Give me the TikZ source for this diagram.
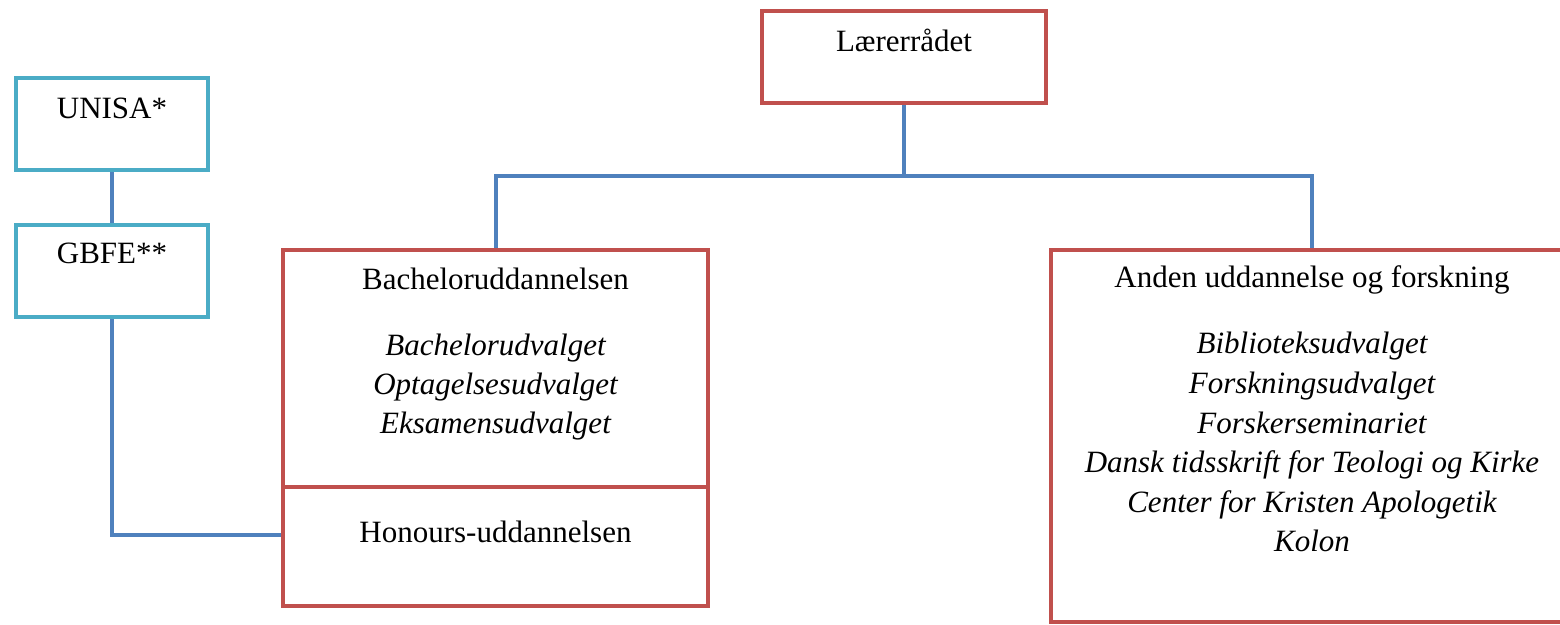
\documentclass[tikz,border=0pt]{standalone}
\usepackage{fontspec}
\setmainfont{Liberation Serif}
\usetikzlibrary{positioning}
\definecolor{boxred}{HTML}{C0504D}
\definecolor{boxcyan}{HTML}{4BACC6}
\definecolor{linkblue}{HTML}{4F81BD}
\newcommand{\boxfont}{\fontsize{15.5}{19.75}\selectfont}
\tikzset{
  redbox/.style={draw=boxred, line width=2.2pt, rectangle},
  cyanbox/.style={draw=boxcyan, line width=2pt, rectangle, minimum width=96pt, minimum height=46pt},
  link/.style={draw=linkblue, line width=2pt},
  title/.style={anchor=base, inner sep=0pt, font=\boxfont},
  item/.style={anchor=base, inner sep=0pt, font=\boxfont\itshape},
}
\begin{document}
\begin{tikzpicture}[x=0.5pt, y=-0.5pt]
    \useasboundingbox (0,0) rectangle (1560,625);
    % boxes
    \node[cyanbox] (unisa) at (112,124) {};
    \node[cyanbox, below=25.5pt of unisa] (gbfe) {};
    \node[redbox, minimum width=142pt, minimum height=46pt] (laerer) at (904,57) {};
    \node[redbox, minimum width=212.5pt, minimum height=118.5pt] (bach) at (495.5,368.5) {};
    \node[redbox, minimum width=212.5pt, minimum height=59.5pt, below=-2.2pt of bach] (hon) {};
    \node[redbox, minimum width=261pt, minimum height=186pt] (anden) at (1312,436) {};
    % titles
    \node[title] (unisatxt) at ([yshift=-21.5pt]unisa.north) {UNISA*};
    \node[title] (gbfetxt) at ([yshift=-20.5pt]gbfe.north) {GBFE**};
    \node[title] (laerertxt) at ([yshift=-21.6pt]laerer.north) {Lærerrådet};
    \node[title] (bachtxt) at ([yshift=-21.1pt]bach.north) {Bacheloruddannelsen};
    \node[title] (hontxt) at ([yshift=-29pt]hon.north) {Honours-uddannelsen};
    \node[title] (andentxt) at ([yshift=-20.1pt]anden.north) {Anden uddannelse og forskning};
    % committees
    \foreach \txt [count=\i from 0] in {Bachelorudvalget, Optagelsesudvalget, Eksamensudvalget}
        \node[item] (bachitem\i) at ([yshift={-(33+19.5*\i)*1pt}]bachtxt.base) {\txt};
    \foreach \txt [count=\i from 0] in {Biblioteksudvalget, Forskningsudvalget, Forskerseminariet,
        Dansk tidsskrift for Teologi og Kirke, Center for Kristen Apologetik, Kolon}
        \node[item] (andenitem\i) at ([yshift={-(33+19.8*\i)*1pt}]andentxt.base) {\txt};
    % connectors
    \draw[link] (unisa) -- (gbfe);
    \draw[link] (laerer.south) -- ++(0,71) coordinate (fork);
    \draw[link] (bach.north) |- (fork) -| (anden.north);
    \draw[link] (gbfe.south) |- ([yshift=5.75pt]hon.west);
\end{tikzpicture}
\end{document}
